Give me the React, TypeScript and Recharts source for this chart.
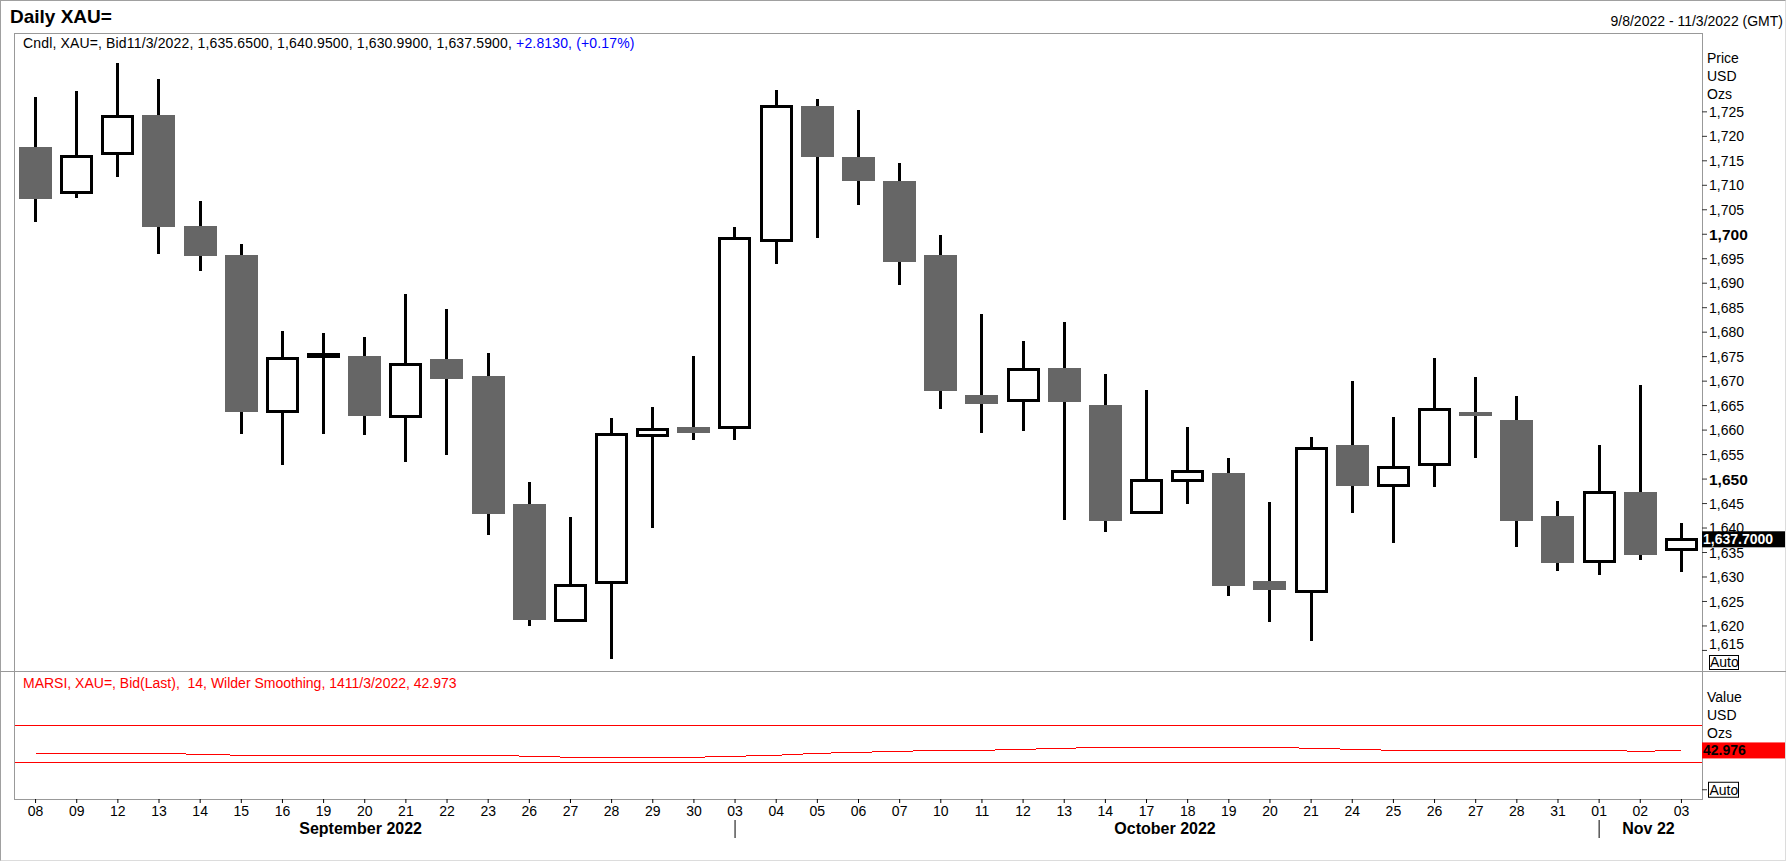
import { Bar, ComposedChart, Line, ReferenceLine, XAxis, YAxis } from 'recharts'

const days = [
  '08', '09', '12', '13', '14', '15', '16', '19', '20', '21', '22', '23', '26', '27', '28', '29', '30',
  '03', '04', '05', '06', '07', '10', '11', '12', '13', '14', '17', '18', '19', '20', '21', '24', '25', '26', '27', '28', '31',
  '01', '02', '03',
]
const opens = [
  1717.8, 1708.5, 1716.5, 1724.4, 1701.7, 1695.8, 1663.8, 1675.1, 1675.1, 1662.7, 1674.5, 1671.1, 1644.9, 1621.2, 1628.9, 1658.8, 1660.7,
  1660.5, 1698.8, 1726.2, 1715.8, 1710.9, 1695.8, 1667.1, 1666.0, 1672.7, 1665.2, 1643.1, 1649.7, 1651.2, 1629.2, 1627.0, 1656.9, 1648.7, 1653.0, 1663.5, 1662.1, 1642.5,
  1633.1, 1647.3, 1635.65,
]
const highs = [
  1728.0, 1729.2, 1735.0, 1731.7, 1706.8, 1698.0, 1680.3, 1679.9, 1679.1, 1687.8, 1684.7, 1675.8, 1649.4, 1642.2, 1662.4, 1664.8, 1675.2,
  1701.5, 1729.5, 1727.6, 1725.4, 1714.6, 1699.9, 1683.7, 1678.3, 1682.0, 1671.5, 1668.2, 1660.7, 1654.3, 1645.3, 1658.6, 1670.1, 1662.6, 1674.7, 1670.8, 1666.9, 1645.5,
  1656.9, 1669.2, 1640.95,
]
const lows = [
  1702.6, 1707.5, 1711.6, 1696.0, 1692.4, 1659.3, 1652.9, 1659.3, 1658.9, 1653.5, 1655.0, 1638.6, 1619.9, 1620.9, 1613.3, 1640.0, 1658.0,
  1658.0, 1694.0, 1699.3, 1705.9, 1689.7, 1664.4, 1659.5, 1659.9, 1641.6, 1639.1, 1642.8, 1644.9, 1626.2, 1620.9, 1616.9, 1643.0, 1637.0, 1648.3, 1654.4, 1636.2, 1631.3,
  1630.5, 1633.5, 1630.99,
]
const closes = [
  1707.1, 1715.8, 1724.0, 1701.4, 1695.6, 1663.6, 1674.7, 1675.5, 1662.9, 1673.5, 1670.4, 1642.9, 1621.2, 1628.3, 1659.2, 1660.1, 1659.5,
  1699.1, 1726.0, 1715.7, 1710.8, 1694.4, 1667.9, 1665.3, 1672.3, 1665.7, 1641.5, 1649.7, 1651.5, 1628.2, 1627.4, 1656.3, 1648.5, 1652.3, 1664.3, 1662.9, 1641.5, 1632.9,
  1647.2, 1634.5, 1637.59,
]
const rsiValues = [
  39.8, 39.8, 39.8, 39.8, 38.7, 37.7, 37.7, 37.7, 37.7, 37.7, 37.7, 37.7, 36.6, 35.5, 35.5, 35.5, 35.5,
  36.6, 37.7, 39.8, 40.9, 42.0, 43.1, 43.1, 44.2, 45.3, 46.4, 46.4, 46.4, 46.4, 46.4, 45.3, 44.2, 43.1, 43.1, 43.1, 43.1, 43.1,
  43.1, 42.0, 42.976,
]
const priceTicks = [
  1615, 1620, 1625, 1630, 1635, 1640, 1645, 1650, 1655, 1660, 1665, 1670, 1675, 1680, 1685, 1690, 1695, 1700,
  1705, 1710, 1715, 1720, 1725,
]
const lastPrice = 1637.7
const lastRsi = 42.976
const rsiLevels = [70, 30]
// month captions: first day index of the month and where the caption sits (in day units)
const months = [
  { label: 'September 2022', start: 0, at: 7.9 },
  { label: 'October 2022', start: 17, at: 27.45 },
  { label: 'Nov 22', start: 38, at: 39.2 },
]

const rows = days.map((day, i) => ({
  idx: i,
  day,
  open: opens[i],
  high: highs[i],
  low: lows[i],
  close: closes[i],
  rsi: rsiValues[i],
}))

const W = 1788
const PLOT_LEFT = 15
const AXIS_W = 86
const BAND = (W - AXIS_W - PLOT_LEFT) / days.length
const FONT = '"Liberation Sans", Arial, sans-serif'

function Candle(props: any) {
  const { x, y, width, height, payload } = props
  const { open, high, low, close } = payload
  const top = Math.min(y, y + height)
  const k = high > low ? Math.abs(height) / (high - low) : 0
  const py = (v: number) => top + (high - v) * k
  const cx = x + width / 2
  const up = close >= open
  let bTop = py(Math.max(open, close))
  let bH = py(Math.min(open, close)) - bTop
  if (!up && bH < 4) {
    bTop -= (4 - bH) / 2
    bH = 4
  }
  return (
    <g shapeRendering="crispEdges">
      <line x1={cx} x2={cx} y1={py(high)} y2={py(low)} stroke="#000" strokeWidth={3} />
      {up ? (
        <rect x={x + 1.5} y={bTop} width={width - 3} height={Math.max(bH, 0.5)} fill="#fff" stroke="#000" strokeWidth={3} />
      ) : (
        <rect x={x} y={bTop} width={width} height={bH} fill="#666666" />
      )}
    </g>
  )
}

function PriceTick(props: any) {
  const { x, y, payload } = props
  const v = payload.value
  if (v === lastPrice) {
    return (
      <g>
        <rect x={x - 7} y={y - 8} width={83} height={16} fill="#000" />
        <text x={x - 6} y={y} dy="0.36em" fill="#fff" fontSize={14} fontWeight="bold" fontFamily={FONT}>
          {v.toLocaleString('en-US', { minimumFractionDigits: 4 })}
        </text>
      </g>
    )
  }
  const bold = v % 50 === 0
  return (
    <g>
      <line x1={x - 7} x2={x - 2} y1={y} y2={y} stroke="#333" />
      <text
        x={x}
        y={v === 1615 ? y - 6 : y}
        dy="0.36em"
        fill="#000"
        fontSize={bold ? 15.5 : 14}
        fontWeight={bold ? 'bold' : 'normal'}
        fontFamily={FONT}
      >
        {v.toLocaleString('en-US')}
      </text>
    </g>
  )
}

function RsiTick(props: any) {
  const { x, y, payload } = props
  if (payload.value === lastRsi) {
    return (
      <g>
        <rect x={x - 7} y={y - 8} width={83} height={16} fill="#ff0000" />
        <text x={x - 6} y={y} dy="0.36em" fill="#000" fontSize={14} fontWeight="bold" fontFamily={FONT}>
          {lastRsi.toFixed(3)}
        </text>
      </g>
    )
  }
  return (
    <g>
      <line x1={x - 7} x2={x - 2} y1={y} y2={y} stroke="#333" />
      <rect x={x - 0.5} y={y - 7.5} width={30} height={15} fill="#fff" stroke="#000" />
      <text x={x + 0.5} y={y} dy="0.36em" fill="#000" fontSize={14} fontFamily={FONT}>
        Auto
      </text>
    </g>
  )
}

function DayTick(props: any) {
  const { x, y, payload } = props
  const i = payload.value as number
  const startOf = months.find((m) => m.start === i && i > 0)
  const caption = months.find((m) => Math.floor(m.at) === i)
  return (
    <g fontFamily={FONT}>
      <line x1={x} x2={x} y1={y - 6} y2={y - 2} stroke="#000" />
      <text x={x} y={y + 11} textAnchor="middle" fontSize={14} fill="#000">
        {days[i]}
      </text>
      {startOf && <line x1={x} x2={x} y1={y + 15} y2={y + 33} stroke="#000" />}
      {caption && (
        <text x={x + (caption.at - i) * BAND} y={y + 28.5} textAnchor="middle" fontSize={16} fontWeight="bold" fill="#000">
          {caption.label}
        </text>
      )}
    </g>
  )
}

const txt = (top: number, left: number, extra: any = {}) => ({
  position: 'absolute' as const,
  top,
  left,
  fontFamily: FONT,
  fontSize: 14,
  lineHeight: '16px',
  whiteSpace: 'pre' as const,
  color: '#000',
  ...extra,
})

export default function App() {
  return (
    <div style={{ position: 'absolute', left: 0, top: 0, width: W, height: 862, background: '#fff', overflow: 'hidden' }}>
      {/* outer frame */}
      <div
        style={{
          position: 'absolute', left: 0, top: 0, width: 1786, height: 861, boxSizing: 'border-box',
          borderTop: '1px solid #a0a0a0', borderLeft: '1px solid #a0a0a0',
          borderRight: '1px solid #dcdcdc', borderBottom: '1px solid #dcdcdc',
        }}
      />
      {/* pane frame */}
      <div
        style={{
          position: 'absolute', left: 14, top: 33, width: 1689, height: 767, boxSizing: 'border-box',
          border: '1px solid #999',
        }}
      />
      <div style={{ position: 'absolute', left: 0, top: 671, width: 1786, height: 1, background: '#999' }} />

      <div style={txt(6, 10, { fontSize: 19, lineHeight: '22px', fontWeight: 'bold' })}>Daily XAU=</div>
      <div style={txt(13, 1383, { width: 400, textAlign: 'right' })}>9/8/2022 - 11/3/2022 (GMT)</div>

      <div style={{ position: 'absolute', left: 0, top: 0 }}>
        <ComposedChart width={W} height={671} data={rows} margin={{ top: 34, right: 0, bottom: 0, left: PLOT_LEFT }}>
          <XAxis dataKey="idx" hide />
          <YAxis
            orientation="right"
            width={AXIS_W}
            domain={[1610.8, 1740.9]}
            allowDataOverflow
            ticks={[...priceTicks, lastPrice]}
            interval={0}
            tickSize={5}
            tickMargin={2}
            axisLine={false}
            tickLine={false}
            tick={PriceTick}
          />
          <Bar dataKey={(d: any) => [d.low, d.high]} barSize={33} shape={Candle} isAnimationActive={false} />
        </ComposedChart>
      </div>

      <div style={{ position: 'absolute', left: 0, top: 672 }}>
        <ComposedChart width={W} height={190} data={rows} margin={{ top: 0, right: 0, bottom: 0, left: PLOT_LEFT }}>
          <XAxis
            dataKey="idx"
            scale="band"
            height={63}
            interval={0}
            tickSize={4}
            tickMargin={2}
            axisLine={false}
            tickLine={false}
            tick={DayTick}
          />
          <YAxis
            orientation="right"
            width={AXIS_W}
            domain={[-10.1, 128.7]}
            allowDataOverflow
            ticks={[0, lastRsi]}
            interval={0}
            tickSize={5}
            tickMargin={2}
            axisLine={false}
            tickLine={false}
            tick={RsiTick}
          />
          {rsiLevels.map((l) => (
            <ReferenceLine key={l} y={l} stroke="#ff0000" strokeWidth={1} shapeRendering="crispEdges" />
          ))}
          <Line
            type="linear"
            dataKey="rsi"
            stroke="#ff0000"
            strokeWidth={1}
            dot={false}
            activeDot={false}
            shapeRendering="crispEdges"
            isAnimationActive={false}
          />
        </ComposedChart>
      </div>

      <div style={txt(35, 23, { letterSpacing: '0.15px' })}>
        Cndl, XAU=, Bid11/3/2022, 1,635.6500, 1,640.9500, 1,630.9900, 1,637.5900,{' '}
        <span style={{ color: '#0000ff' }}>+2.8130, (+0.17%)</span>
      </div>
      <div style={txt(675, 23, { color: '#ff0000' })}>
        MARSI, XAU=, Bid(Last),  14, Wilder Smoothing, 1411/3/2022, 42.973
      </div>

      <div style={txt(49, 1707, { lineHeight: '18px' })}>{'Price\nUSD\nOzs'}</div>
      <div style={txt(688, 1707, { lineHeight: '18px' })}>{'Value\nUSD\nOzs'}</div>
      <div
        style={txt(655, 1709, {
          width: 30, height: 15, boxSizing: 'border-box', border: '1px solid #000', lineHeight: '13px', paddingLeft: 0,
        })}
      >
        Auto
      </div>
    </div>
  )
}
